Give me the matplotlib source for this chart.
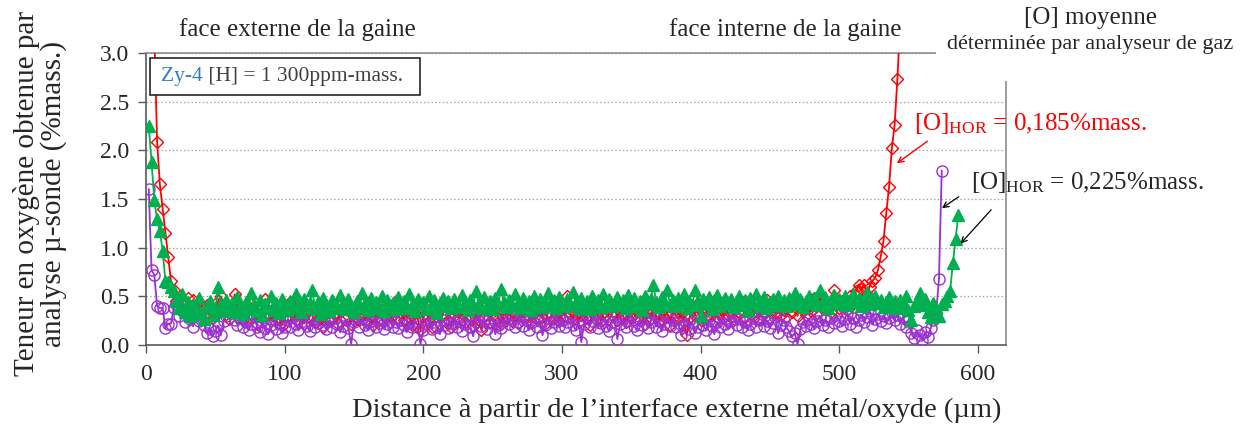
import numpy as np
import matplotlib.pyplot as plt
from matplotlib.patches import Rectangle
from matplotlib.text import Annotation

plt.rcParams['font.family'] = ['Liberation Serif', 'DejaVu Serif']
plt.rcParams['mathtext.fontset'] = 'custom'
plt.rcParams['mathtext.rm'] = 'Liberation Serif'
plt.rcParams['mathtext.it'] = 'Liberation Serif:italic'

# teneur en oxygene (%mass.) mesuree tous les 2 um
red_x0, purple_x0, green_x0, step = 6, 2, 2, 2

red_o = [
    3.20, 2.09, 1.65, 1.40, 1.15, 0.90, 0.66, 0.57, 0.45, 0.38,
    0.42, 0.35, 0.48, 0.40, 0.46, 0.33, 0.44, 0.38, 0.30, 0.41, 0.36, 0.28, 0.33, 0.45, 0.50, 0.38, 0.32, 0.27, 0.35, 0.52,
    0.40, 0.31, 0.26, 0.36, 0.29, 0.43, 0.34, 0.22, 0.30, 0.38, 0.47, 0.33, 0.25, 0.31, 0.40, 0.28, 0.20, 0.35, 0.30, 0.44,
    0.32, 0.26, 0.38, 0.29, 0.22, 0.34, 0.41, 0.30, 0.24, 0.36, 0.28, 0.19, 0.33, 0.27, 0.38, 0.31, 0.23, 0.35, 0.29, 0.40,
    0.30, 0.22, 0.34, 0.27, 0.37, 0.31, 0.25, 0.43, 0.29, 0.21, 0.32, 0.38, 0.26, 0.30, 0.35, 0.24, 0.31, 0.45, 0.28, 0.33,
    0.26, 0.36, 0.29, 0.21, 0.33, 0.27, 0.15, 0.30, 0.37, 0.25, 0.19, 0.28, 0.34, 0.22, 0.31, 0.40, 0.26, 0.18, 0.30, 0.35,
    0.27, 0.33, 0.24, 0.38, 0.29, 0.20, 0.32, 0.26, 0.15, 0.29, 0.36, 0.24, 0.31, 0.43, 0.27, 0.22, 0.34, 0.29, 0.37, 0.25,
    0.31, 0.23, 0.35, 0.28, 0.41, 0.30, 0.24, 0.33, 0.27, 0.36, 0.29, 0.22, 0.34, 0.40, 0.28, 0.31, 0.25, 0.37, 0.30, 0.50,
    0.33, 0.27, 0.38, 0.24, 0.31, 0.36, 0.28, 0.21, 0.34, 0.41, 0.29, 0.25, 0.33, 0.38, 0.27, 0.31, 0.43, 0.26, 0.35, 0.30,
    0.24, 0.37, 0.29, 0.33, 0.27, 0.39, 0.31, 0.22, 0.35, 0.28, 0.42, 0.30, 0.25, 0.36, 0.29, 0.33, 0.21, 0.38, 0.31, 0.27,
    0.35, 0.24, 0.10, 0.28, 0.37, 0.30, 0.43, 0.26, 0.34, 0.29, 0.38, 0.32, 0.25, 0.40, 0.33, 0.28, 0.45, 0.31, 0.36, 0.27,
    0.39, 0.33, 0.44, 0.29, 0.36, 0.41, 0.30, 0.35, 0.27, 0.38, 0.32, 0.46, 0.28, 0.37, 0.33, 0.40, 0.31, 0.36, 0.29, 0.42,
    0.34, 0.39, 0.30, 0.44, 0.36, 0.31, 0.40, 0.35, 0.48, 0.33, 0.42, 0.37, 0.46, 0.39, 0.34, 0.56, 0.41, 0.38, 0.45, 0.40,
    0.36, 0.50, 0.42, 0.55, 0.62, 0.58, 0.62, 0.52, 0.60, 0.66, 0.69, 0.77, 0.91, 1.07, 1.36, 1.62, 2.02, 2.26, 2.73,
    3.30,
]

purple_o = [
    1.60, 0.77, 0.72, 0.40, 0.38, 0.38, 0.17, 0.22, 0.22, 0.38,
    0.42, 0.30, 0.36, 0.24, 0.31, 0.27, 0.19, 0.35, 0.25, 0.29, 0.21, 0.12, 0.16, 0.09, 0.14, 0.20, 0.10, 0.25, 0.30, 0.40,
    0.33, 0.26, 0.21, 0.28, 0.18, 0.24, 0.15, 0.22, 0.30, 0.19, 0.13, 0.25, 0.17, 0.11, 0.21, 0.27, 0.16, 0.23, 0.12, 0.19,
    0.26, 0.18, 0.29, 0.22, 0.15, 0.24, 0.31, 0.20, 0.14, 0.27, 0.19, 0.23, 0.35, 0.21, 0.16, 0.25, 0.18, 0.28, 0.22, 0.13,
    0.20, 0.26, 0.17, 0.01, 0.24, 0.30, 0.19, 0.27, 0.21, 0.15, 0.25, 0.32, 0.18, 0.23, 0.28, 0.16, 0.22, 0.29, 0.19, 0.24,
    0.17, 0.26, 0.21, 0.13, 0.23, 0.18, 0.25, 0.20, 0.01, 0.15, 0.22, 0.28, 0.16, 0.24, 0.19, 0.11, 0.26, 0.21, 0.17, 0.23,
    0.29, 0.18, 0.25, 0.14, 0.22, 0.27, 0.19, 0.09, 0.24, 0.31, 0.20, 0.26, 0.16, 0.23, 0.28, 0.11, 0.21, 0.17, 0.25, 0.30,
    0.22, 0.27, 0.18, 0.24, 0.31, 0.20, 0.26, 0.15, 0.23, 0.29, 0.19, 0.25, 0.10, 0.21, 0.28, 0.17, 0.24, 0.30, 0.20, 0.26,
    0.18, 0.24, 0.29, 0.21, 0.15, 0.26, 0.03, 0.22, 0.28, 0.19, 0.25, 0.31, 0.17, 0.23, 0.27, 0.20, 0.14, 0.24, 0.29, 0.06,
    0.22, 0.27, 0.18, 0.25, 0.30, 0.20, 0.15, 0.26, 0.21, 0.28, 0.17, 0.24, 0.32, 0.19, 0.25, 0.14, 0.22, 0.29, 0.20, 0.26,
    0.18, 0.23, 0.10, 0.21, 0.27, 0.16, 0.24, 0.12, 0.19, 0.28, 0.21, 0.15, 0.26, 0.20, 0.11, 0.24, 0.18, 0.29, 0.22, 0.16,
    0.25, 0.30, 0.21, 0.27, 0.18, 0.24, 0.15, 0.22, 0.28, 0.19, 0.26, 0.32, 0.20, 0.25, 0.17, 0.23, 0.29, 0.12, 0.21, 0.26,
    0.18, 0.14, 0.09, 0.12, 0.01, 0.16, 0.24, 0.20, 0.27, 0.22, 0.17, 0.25, 0.30, 0.21, 0.26, 0.19, 0.28, 0.23, 0.31, 0.25,
    0.20, 0.27, 0.33, 0.22, 0.28, 0.19, 0.26, 0.31, 0.24, 0.29, 0.35, 0.21, 0.27, 0.32, 0.25, 0.30, 0.23, 0.28, 0.34, 0.26,
    0.31, 0.22, 0.29, 0.18, 0.25, 0.12, 0.07, 0.15, 0.10, 0.05, 0.13, 0.08, 0.17, 0.26, 0.33, 0.68, 1.79,
]

green_o = [
    2.25, 1.88, 1.49, 1.29, 1.17, 0.97, 0.66, 0.65, 0.60, 0.55,
    0.45, 0.38, 0.52, 0.34, 0.44, 0.30, 0.41, 0.36, 0.48, 0.33, 0.27, 0.39, 0.45, 0.31, 0.37, 0.60, 0.42, 0.35, 0.46, 0.38,
    0.43, 0.34, 0.49, 0.39, 0.32, 0.44, 0.37, 0.53, 0.40, 0.35, 0.46, 0.31, 0.42, 0.38, 0.50, 0.36, 0.43, 0.33, 0.47, 0.40,
    0.36, 0.45, 0.38, 0.52, 0.41, 0.34, 0.47, 0.39, 0.43, 0.56, 0.37, 0.44, 0.32, 0.48, 0.40, 0.35, 0.46, 0.42, 0.38, 0.51,
    0.43, 0.37, 0.47, 0.40, 0.34, 0.45, 0.39, 0.53, 0.42, 0.36, 0.48, 0.41, 0.44, 0.38, 0.50, 0.35, 0.46, 0.40, 0.43, 0.37,
    0.49, 0.41, 0.45, 0.38, 0.52, 0.40, 0.35, 0.47, 0.42, 0.44, 0.37, 0.50, 0.39, 0.46, 0.33, 0.43, 0.48, 0.40, 0.45, 0.38,
    0.47, 0.42, 0.39, 0.51, 0.44, 0.36, 0.46, 0.41, 0.55, 0.43, 0.38, 0.49, 0.40, 0.45, 0.37, 0.48, 0.42, 0.58, 0.44, 0.39,
    0.46, 0.41, 0.52, 0.43, 0.38, 0.48, 0.40, 0.45, 0.36, 0.50, 0.42, 0.47, 0.39, 0.44, 0.53, 0.41, 0.46, 0.38, 0.49, 0.43,
    0.40, 0.47, 0.42, 0.54, 0.44, 0.38, 0.48, 0.41, 0.45, 0.37, 0.50, 0.43, 0.46, 0.39, 0.52, 0.42, 0.47, 0.40, 0.44, 0.49,
    0.41, 0.46, 0.38, 0.51, 0.43, 0.48, 0.40, 0.45, 0.36, 0.50, 0.42, 0.47, 0.62, 0.44, 0.39, 0.49, 0.43, 0.57, 0.41, 0.46,
    0.40, 0.48, 0.43, 0.52, 0.38, 0.45, 0.41, 0.56, 0.44, 0.30, 0.47, 0.42, 0.49, 0.37, 0.46, 0.51, 0.40, 0.44, 0.48, 0.42,
    0.47, 0.39, 0.45, 0.50, 0.41, 0.46, 0.36, 0.48, 0.43, 0.52, 0.40, 0.45, 0.49, 0.38, 0.44, 0.47, 0.41, 0.50, 0.43, 0.46,
    0.40, 0.48, 0.44, 0.53, 0.42, 0.47, 0.39, 0.45, 0.50, 0.43, 0.48, 0.41, 0.56, 0.44, 0.49, 0.38, 0.46, 0.51, 0.42, 0.47,
    0.43, 0.50, 0.41, 0.46, 0.52, 0.44, 0.48, 0.40, 0.45, 0.54, 0.42, 0.47, 0.50, 0.43, 0.46, 0.39, 0.44, 0.49, 0.41, 0.45,
    0.38, 0.46, 0.42, 0.50, 0.36, 0.26, 0.40, 0.44, 0.53, 0.41, 0.47, 0.34, 0.29, 0.43, 0.38, 0.30, 0.42, 0.45, 0.50, 0.55,
    0.84, 1.09, 1.34,
]

red_x = red_x0 + step * np.arange(len(red_o))
purple_x = purple_x0 + step * np.arange(len(purple_o))
green_x = green_x0 + step * np.arange(len(green_o))

y_ticks = [0.0, 0.5, 1.0, 1.5, 2.0, 2.5, 3.0]
x_ticks = [0, 100, 200, 300, 400, 500, 600]

W, H = 1246, 432
fig = plt.figure(figsize=(W / 100, H / 100), dpi=100)
ax = fig.add_axes([146 / W, 1 - 345 / H, (1005.5 - 146) / W, (345 - 53) / H])

ax.plot(red_x, red_o, color='#ff0000', lw=1.3, marker='D', ms=6.5,
        mfc='none', mec='#ff0000', mew=1.0, zorder=3)
ax.plot(purple_x, purple_o, color='#9b30d0', lw=1.3, marker='o', ms=8,
        mfc='none', mec='#9b30d0', mew=1.0, zorder=4)
ax.plot(green_x, green_o, color='#00b050', lw=1.3, marker='^', ms=8,
        mfc='#00b050', mec='#00b050', zorder=5)

ax.set_xlim(0, 620)
ax.set_ylim(0, 3.0)
ax.set_xticks(x_ticks)
ax.set_yticks(y_ticks)
ax.set_yticklabels(['%.1f' % v for v in y_ticks])
ax.tick_params(axis='both', direction='out', length=6, width=1, color='#595959',
               labelsize=17, labelcolor='#262626')
ax.tick_params(axis='y', pad=6)
ax.tick_params(axis='x', pad=8)
ax.yaxis.grid(True, linestyle=(0, (1.2, 1.8)), color='#a6a6a6', lw=0.9)
ax.set_axisbelow(True)
for s in ['left', 'bottom']:
    ax.spines[s].set_color('#595959')
    ax.spines[s].set_linewidth(1.2)
for s in ['top', 'right']:
    ax.spines[s].set_color('#8c8c8c')
    ax.spines[s].set_linewidth(1.2)

# axis titles
fig.text(40 / W, 1 - 194 / H, 'Teneur en oxygène obtenue par\nanalyse µ-sonde (%mass.)',
         rotation=90, ha='center', va='center', multialignment='center',
         fontsize=21, color='#262626', linespacing=1.0)
fig.text(677 / W, 1 - 410 / H, 'Distance à partir de l’interface externe métal/oxyde (µm)',
         ha='center', va='center', fontsize=20.5, color='#262626')

# header labels
fig.text(297 / W, 1 - 30 / H, 'face externe de la gaine', ha='center', va='center',
         fontsize=18, color='#262626')
fig.text(785 / W, 1 - 30 / H, 'face interne de la gaine', ha='center', va='center',
         fontsize=18, color='#262626')
fig.patches.append(Rectangle((936 / W, 1 - 81 / H), 1, 1, transform=fig.transFigure,
                             facecolor='white', edgecolor='none', zorder=2))
fig.text(1091 / W, 1 - 18 / H, '[O] moyenne', ha='center', va='center',
         fontsize=18, color='#262626', zorder=3)
fig.text(1090 / W, 1 - 45 / H, 'déterminée par analyseur de gaz', ha='center', va='center',
         fontsize=16, color='#262626', zorder=3)

# sample box
fig.patches.append(Rectangle((150 / W, 1 - 95 / H), 270 / W, 37 / H, transform=fig.transFigure,
                             facecolor='white', edgecolor='#262626', lw=1.2, zorder=2))
t1 = fig.text(161 / W, 1 - 77 / H, 'Zy-4', ha='left', va='center', fontsize=15.5,
              color='#2e7dc4', zorder=3)
fig.add_artist(Annotation(' [H] = 1 300ppm-mass.', xy=(1, 0), xycoords=t1,
                          va='bottom', ha='left', fontsize=15.5, color='#404040', zorder=3))

# measured values and arrows
ax.text(554, 2.28, r'[O]$_{\mathrm{HOR}}$ = 0,185%mass.', ha='left', va='center',
        fontsize=18, color='#ff0000', zorder=6, clip_on=False)
ax.annotate('', xy=(540, 1.85), xytext=(565.3, 2.11),
            arrowprops=dict(arrowstyle='->', color='#ff0000', lw=1.0), zorder=6)
ax.text(595, 1.67, r'[O]$_{\mathrm{HOR}}$ = 0,225%mass.', ha='left', va='center',
        fontsize=18, color='#262626', zorder=6, clip_on=False)
ax.annotate('', xy=(572.5, 1.39), xytext=(588, 1.54),
            arrowprops=dict(arrowstyle='->', color='#000000', lw=0.9), zorder=6)
ax.annotate('', xy=(586.2, 1.02), xytext=(611, 1.41),
            arrowprops=dict(arrowstyle='->', color='#000000', lw=0.9), zorder=6,
            annotation_clip=False)

fig.savefig('out.png', dpi=100)
